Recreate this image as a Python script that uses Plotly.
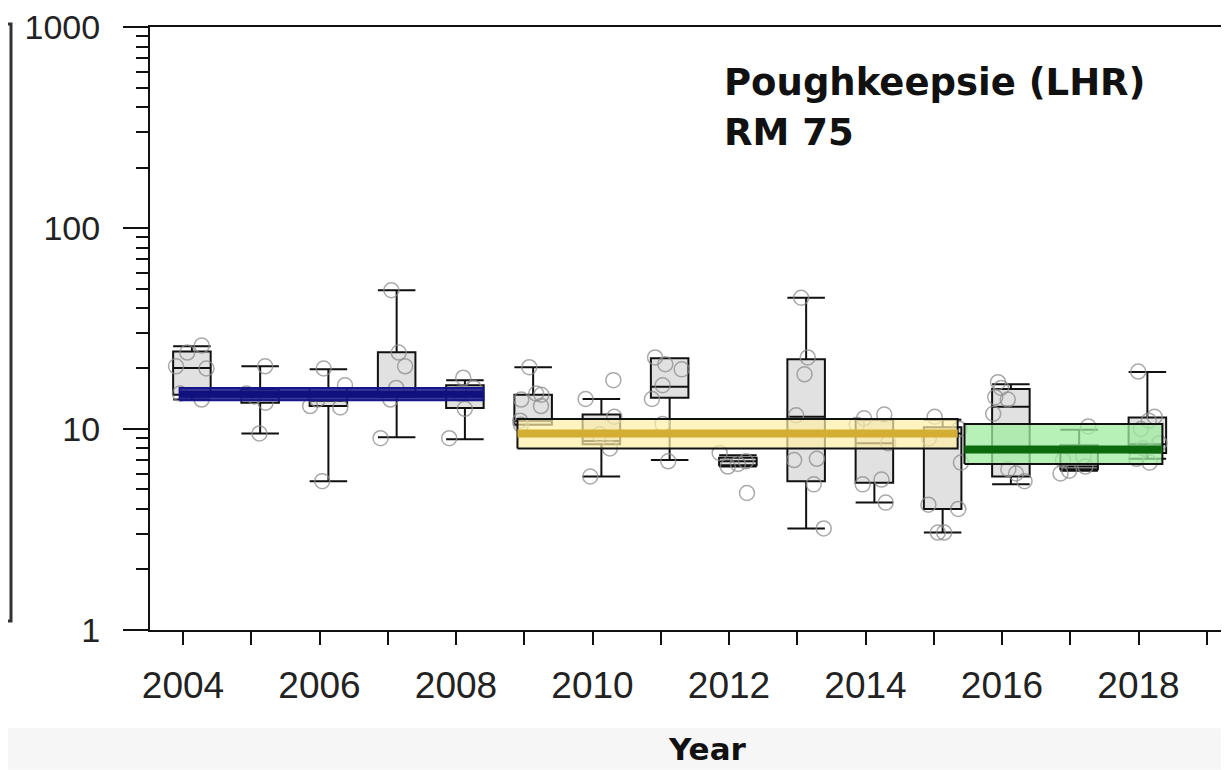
import plotly.graph_objects as go

# ---------------- data ----------------
years = [2004, 2005, 2006, 2007, 2008, 2009, 2010, 2011, 2012, 2013, 2014, 2015, 2016, 2017, 2018]
box_lower = [14.0, 9.5, 5.5, 9.1, 8.9, 10.5, 5.8, 7.0, 6.5, 3.2, 4.3, 3.05, 5.3, 6.2, 7.1]
box_q1 = [14.8, 13.5, 13.0, 14.5, 12.7, 10.5, 8.4, 14.3, 6.6, 5.5, 5.4, 4.0, 5.8, 6.3, 7.6]
box_median = [20.1, 14.5, 13.8, 16.0, 15.2, 11.0, 8.7, 16.2, 6.9, 11.5, 8.5, 9.5, 12.9, 6.5, 8.4]
box_q3 = [24.3, 15.8, 16.0, 24.1, 16.5, 14.8, 11.8, 22.5, 7.2, 22.2, 11.1, 10.2, 15.8, 8.3, 11.4]
box_upper = [25.8, 20.5, 19.8, 49.0, 17.5, 20.3, 14.1, 22.5, 7.4, 45.0, 11.1, 11.1, 16.7, 9.9, 19.2]

pts_2004 = [26, 24, 20.5, 20, 15, 14]
pts_2005 = [20.5, 15, 14.5, 13.5, 9.5]
pts_2006 = [20, 16.5, 14, 13, 12.8, 5.5]
pts_2007 = [49, 24, 20.5, 16, 14, 9]
pts_2008 = [18, 16, 15, 12.6, 9]
pts_2009 = [20.3, 15, 14.8, 14, 13, 11, 10.5]
pts_2010 = [17.5, 14.1, 11.5, 9.4, 8, 5.8]
pts_2011 = [22.7, 21, 19.8, 16.5, 14.1, 10.6, 6.9]
pts_2012 = [7.6, 6.9, 6.7, 6.5, 4.8]
pts_2013 = [45, 22.7, 18.7, 11.7, 7.1, 7, 5.3, 3.2]
pts_2014 = [11.8, 11.3, 10.5, 8.5, 5.6, 5.3, 4.3]
pts_2015 = [11.5, 10, 9, 6.8, 4.2, 4, 3.05, 3.05]
pts_2016 = [17.1, 16, 14.4, 14, 11.9, 6.3, 6, 5.5]
pts_2017 = [10.3, 7.3, 7, 6.5, 6.2, 6.0]
pts_2018 = [19.3, 11.5, 11, 10, 8.5, 8, 7.1, 6.8]
points_by_year = [pts_2004, pts_2005, pts_2006, pts_2007, pts_2008, pts_2009, pts_2010,
                  pts_2011, pts_2012, pts_2013, pts_2014, pts_2015, pts_2016, pts_2017, pts_2018]

period_start = [2003.95, 2008.9, 2015.45]
period_end = [2008.4, 2015.35, 2018.35]
period_q1 = [13.9, 8.0, 6.7]
period_median = [14.9, 9.5, 7.9]
period_q3 = [16.0, 11.2, 10.6]

x_tick_years = [2004, 2006, 2008, 2010, 2012, 2014, 2016, 2018]
y_tick_vals = [1, 10, 100, 1000]
y_tick_text = ["1", "10", "100", "1000"]

# ---------------- style ----------------
X_SHIFT = 0.13
BOX_W = 0.55
period_fill = ["rgba(25,25,140,0.85)", "rgba(255,240,165,0.7)", "rgba(160,236,160,0.75)"]
period_edge = ["#16168a", "#111111", "#111111"]
period_line = ["#10107f", "#d4ad35", "#0b6a0b"]
period_line_w = [7, 8, 8]

fig = go.Figure()

xs = [y + X_SHIFT for y in years]
fig.add_trace(go.Box(
    x=xs, q1=box_q1, median=box_median, q3=box_q3,
    lowerfence=box_lower, upperfence=box_upper,
    width=BOX_W, whiskerwidth=1, boxpoints=False,
    fillcolor="#e1e1e1", line=dict(color="#111111", width=2),
    showlegend=False, hoverinfo="skip"))

for i in range(len(period_start)):
    s, e = period_start[i], period_end[i]
    fig.add_trace(go.Scatter(
        x=[s, e, e, s, s],
        y=[period_q1[i], period_q1[i], period_q3[i], period_q3[i], period_q1[i]],
        mode="lines", fill="toself", fillcolor=period_fill[i],
        line=dict(color=period_edge[i], width=2), showlegend=False, hoverinfo="skip"))
    fig.add_trace(go.Scatter(
        x=[s, e], y=[period_median[i], period_median[i]], mode="lines",
        line=dict(color=period_line[i], width=period_line_w[i]),
        showlegend=False, hoverinfo="skip"))

px, py = [], []
for yr, vals in zip(years, points_by_year):
    px += [yr + X_SHIFT] * len(vals)
    py += vals
fig.add_trace(go.Box(
    x=px, y=py, boxpoints="all", jitter=1.0, pointpos=0, width=BOX_W,
    fillcolor="rgba(0,0,0,0)", line=dict(color="rgba(0,0,0,0)", width=0),
    marker=dict(symbol="circle-open", size=15, color="rgba(140,140,140,0.75)",
                line=dict(width=1.5)),
    showlegend=False, hoverinfo="skip"))

# page has an 8px body margin; positions below are page pixels
OFF = 8
W, H = 1229 - OFF, 770 - OFF
L = 150 - OFF
T = 22 - OFF
B = H - (630 - OFF)
pw, ph = W - L, H - T - B

def pxx(xp):
    return (xp - OFF - L) / pw

def pyy(yp):
    return (H - B - (yp - OFF)) / ph

fig.update_layout(
    width=W, height=H, margin=dict(l=L, r=0, t=T, b=B),
    paper_bgcolor="white", plot_bgcolor="white", boxmode="overlay",
    xaxis=dict(range=[2003.516, 2019.326], tickvals=x_tick_years,
               ticks="outside", ticklen=13, tickwidth=2, tickcolor="#111",
               showline=True, linecolor="#111", linewidth=2, mirror=True,
               showgrid=False, zeroline=False, ticklabelstandoff=9,
               tickfont=dict(family="Liberation Sans, Arial", size=37, color="#222"),
               minor=dict(dtick=1, tick0=2004, ticks="outside", ticklen=13,
                          tickwidth=2, tickcolor="#111", showgrid=False)),
    yaxis=dict(type="log", range=[-0.0005, 3.0005], tickvals=y_tick_vals, ticktext=y_tick_text,
               ticks="outside", ticklen=25, tickwidth=2, tickcolor="#111",
               showline=True, linecolor="#111", linewidth=2,
               showgrid=False, zeroline=False, ticklabelstandoff=16,
               ticklabeloverflow="allow",
               tickfont=dict(family="Liberation Sans, Arial", size=34, color="#222"),
               minor=dict(tickvals=[m * 10 ** d for d in range(3) for m in range(2, 10)],
                          ticks="outside", ticklen=12, tickwidth=2, tickcolor="#111",
                          showgrid=False)),
    shapes=[
        dict(type="rect", xref="paper", yref="paper", x0=pxx(0), x1=1.0,
             y0=pyy(771), y1=pyy(729), fillcolor="#f6f6f6", line=dict(width=0),
             layer="below"),
        dict(type="path", xref="paper", yref="paper",
             path=f"M {pxx(0)} {pyy(19)} L {pxx(11)} {pyy(19)} L {pxx(11)} {pyy(621)} L {pxx(0)} {pyy(621)}",
             line=dict(color="#333", width=3)),
    ],
    annotations=[
        dict(text="<b>Poughkeepsie (LHR)</b>", xref="paper", yref="paper",
             x=pxx(722), y=pyy(78), xanchor="left", yanchor="middle", showarrow=False,
             font=dict(family="DejaVu Sans", size=37, color="#111")),
        dict(text="<b>RM 75</b>", xref="paper", yref="paper",
             x=pxx(722), y=pyy(128), xanchor="left", yanchor="middle", showarrow=False,
             font=dict(family="DejaVu Sans", size=37, color="#111")),
        dict(text="<b>Year</b>", xref="paper", yref="paper",
             x=pxx(707), y=pyy(750), xanchor="center", yanchor="middle", showarrow=False,
             font=dict(family="DejaVu Sans", size=31, color="#111")),
    ],
)

fig.write_html("out.html")
